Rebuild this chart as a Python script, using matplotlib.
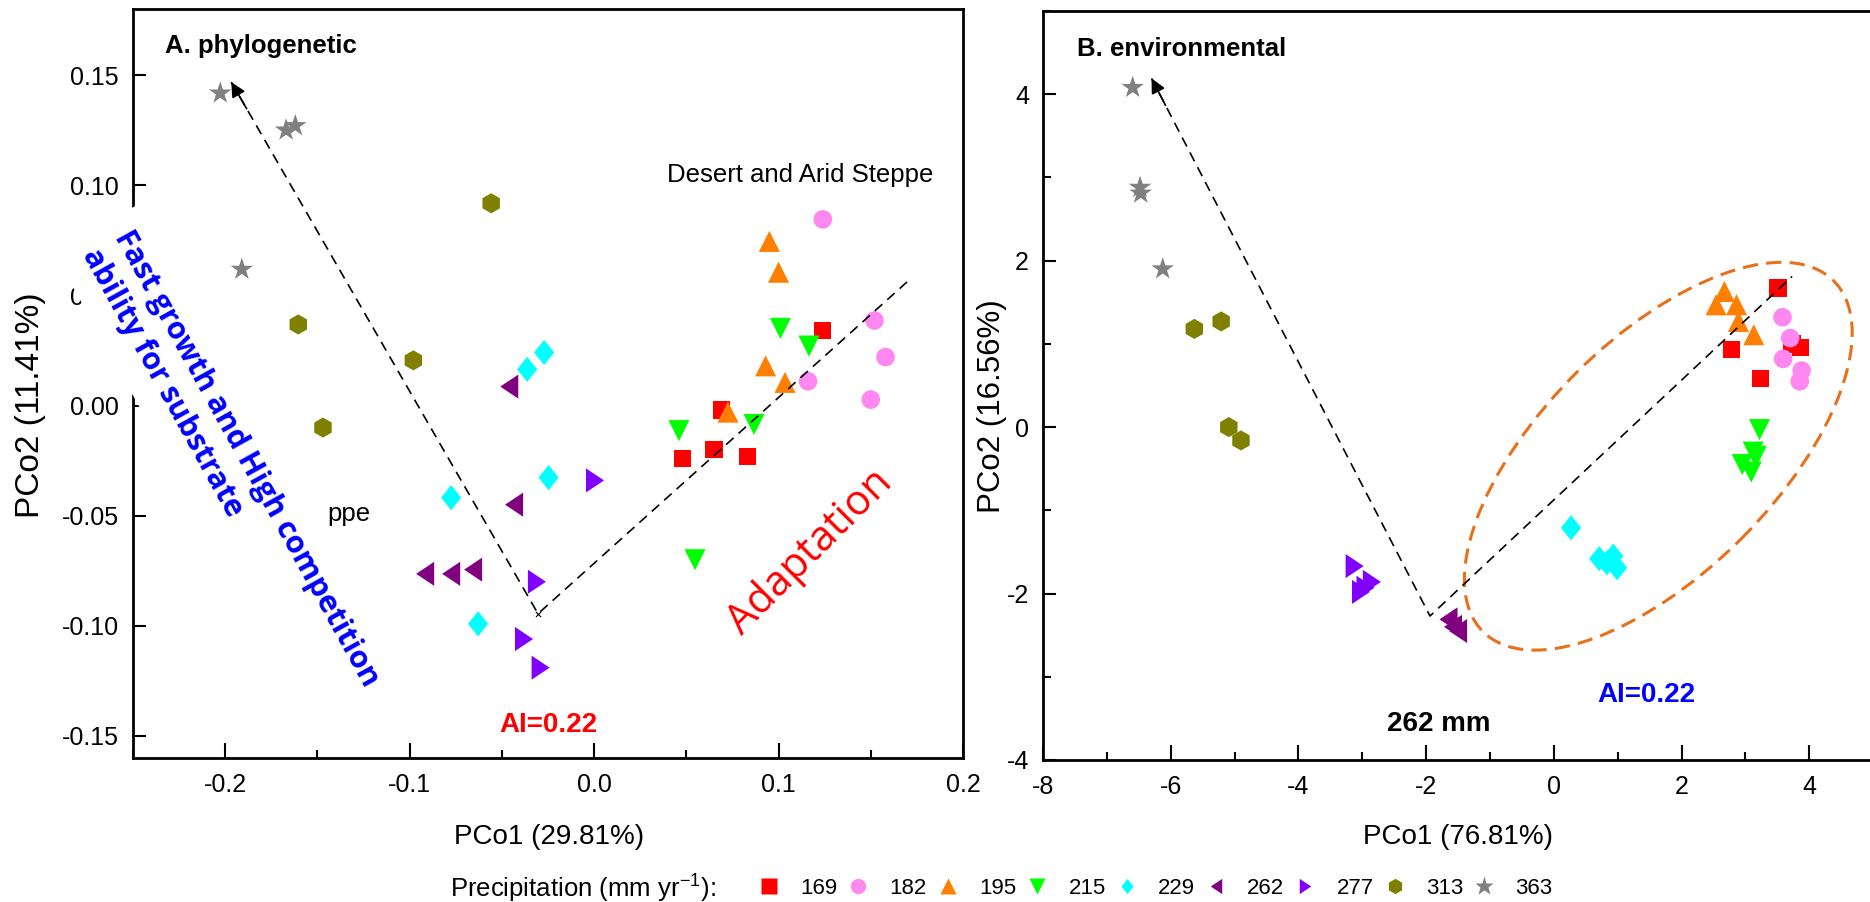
import matplotlib
matplotlib.use("Agg")
import matplotlib.pyplot as plt
import matplotlib.transforms as mtransforms
from matplotlib.lines import Line2D
from matplotlib.patches import Ellipse
from matplotlib.ticker import MultipleLocator, FormatStrFormatter

plt.rcParams['font.family'] = ['Liberation Sans', 'DejaVu Sans']
plt.rcParams['axes.unicode_minus'] = False
plt.rcParams['mathtext.fontset'] = 'custom'
plt.rcParams['mathtext.rm'] = 'Liberation Sans'

# precipitation groups (mm/yr)
rain = ['169', '182', '195', '215', '229', '262', '277', '313', '363']
colors = ['#FF0000', '#FF88F0', '#FF8000', '#00FF00', '#00FFFF',
          '#800080', '#8000FF', '#808000', '#808080']

# A. phylogenetic : PCo1 / PCo2
a169_x = [0.048, 0.065, 0.083, 0.069, 0.124]
a169_y = [-0.024, -0.020, -0.023, -0.002, 0.034]
a182_x = [0.124, 0.152, 0.158, 0.116, 0.150]
a182_y = [0.0845, 0.0386, 0.022, 0.011, 0.0027]
a195_x = [0.095, 0.100, 0.093, 0.1035, 0.0726]
a195_y = [0.0745, 0.0605, 0.018, 0.0105, -0.003]
a215_x = [0.101, 0.1165, 0.0867, 0.046, 0.0547]
a215_y = [0.035, 0.027, -0.0086, -0.0114, -0.070]
a229_x = [-0.0271, -0.0363, -0.0247, -0.0775, -0.0629]
a229_y = [0.0241, 0.0164, -0.0327, -0.0418, -0.0991]
a262_x = [-0.046, -0.0434, -0.0916, -0.0775, -0.0656]
a262_y = [0.0086, -0.045, -0.0764, -0.0764, -0.0745]
a277_x = [0.0005, -0.031, -0.038, -0.029]
a277_y = [-0.034, -0.080, -0.106, -0.119]
a313_x = [-0.0558, -0.1604, -0.098, -0.147]
a313_y = [0.0918, 0.0368, 0.0205, -0.010]
a363_x = [-0.2027, -0.167, -0.162, -0.191]
a363_y = [0.1418, 0.125, 0.127, 0.0618]

# B. environmental : PCo1 / PCo2
b169_x = [3.51, 2.78, 3.23, 3.73, 3.86]
b169_y = [1.67, 0.93, 0.58, 1.00, 0.96]
b182_x = [3.58, 3.70, 3.59, 3.88, 3.85]
b182_y = [1.32, 1.07, 0.82, 0.68, 0.55]
b195_x = [2.67, 2.54, 2.86, 2.89, 3.13]
b195_y = [1.63, 1.47, 1.47, 1.27, 1.11]
b215_x = [3.22, 3.12, 3.17, 2.95, 3.09]
b215_y = [-0.03, -0.30, -0.35, -0.45, -0.54]
b229_x = [0.27, 0.71, 0.83, 0.93, 0.99]
b229_y = [-1.21, -1.58, -1.63, -1.55, -1.69]
b262_x = [-1.65, -1.50, -1.58]
b262_y = [-2.31, -2.45, -2.40]
b277_x = [-3.12, -2.85, -2.95, -3.02]
b277_y = [-1.67, -1.86, -1.93, -1.98]
b313_x = [-5.63, -5.21, -5.09, -4.90]
b313_y = [1.18, 1.27, 0.00, -0.16]
b363_x = [-6.595, -6.48, -6.47, -6.125]
b363_y = [4.08, 2.88, 2.81, 1.90]

# dashed guide lines: arrow tip, vertex, end
a_tip, a_vertex, a_end = (-0.1967, 0.1468), (-0.0304, -0.0945), (0.1718, 0.0577)
b_tip, b_vertex, b_end = (-6.30, 4.19), (-1.94, -2.27), (3.73, 1.81)

# marker shapes (custom ones are a bit taller than wide, as in the original)
diamond = [(0, 1), (0.8, 0), (0, -1), (-0.8, 0), (0, 1)]
tri_left = [(-0.75, 0), (0.75, 1), (0.75, -1), (-0.75, 0)]
tri_right = [(0.75, 0), (-0.75, 1), (-0.75, -1), (0.75, 0)]
markers = ['s', 'o', '^', 'v', diamond, tri_left, tri_right, 'h', '*']
sizes = [155, 180, 230, 230, 330, 300, 300, 210, 290]

a_data = [(a169_x, a169_y), (a182_x, a182_y), (a195_x, a195_y), (a215_x, a215_y),
          (a229_x, a229_y), (a262_x, a262_y), (a277_x, a277_y), (a313_x, a313_y),
          (a363_x, a363_y)]
b_data = [(b169_x, b169_y), (b182_x, b182_y), (b195_x, b195_y), (b215_x, b215_y),
          (b229_x, b229_y), (b262_x, b262_y), (b277_x, b277_y), (b313_x, b313_y),
          (b363_x, b363_y)]

fig = plt.figure(figsize=(18.7, 9.02), dpi=100)
axA = fig.add_axes([0.07112, 0.15965, 0.44385, 0.83038])
axB = fig.add_axes([0.55775, 0.15743, 0.44225, 0.83038])


def style_axes(ax):
    for side in ['left', 'right', 'top', 'bottom']:
        ax.spines[side].set_linewidth(2)
    ax.tick_params(which='both', direction='in', top=False, right=False,
                   width=1.5, labelsize=18)
    ax.tick_params(axis='x', which='major', length=11, pad=11)
    ax.tick_params(axis='x', which='minor', length=6)
    ax.tick_params(axis='y', which='major', length=9.5, pad=10)
    ax.tick_params(axis='y', which='minor', length=5.5)


def guide(ax, tip, vertex, end):
    ax.plot([tip[0], vertex[0], end[0]], [tip[1], vertex[1], end[1]],
            color='k', lw=1.2, dashes=(6, 4), zorder=4)
    back = (tip[0] + 0.05 * (vertex[0] - tip[0]), tip[1] + 0.05 * (vertex[1] - tip[1]))
    ax.annotate('', xy=tip, xytext=back,
                arrowprops=dict(arrowstyle='-|>', color='k', lw=1.2,
                                mutation_scale=22, shrinkA=0, shrinkB=0),
                zorder=5)


for ax, data in [(axA, a_data), (axB, b_data)]:
    for (xs, ys), c, m, s in zip(data, colors, markers, sizes):
        ax.scatter(xs, ys, s=s, marker=m, color=c, edgecolors='none', zorder=3)
    style_axes(ax)

# ---- panel A
axA.set_xlim(-0.25, 0.2)
axA.set_ylim(-0.16, 0.18)
axA.xaxis.set_major_locator(MultipleLocator(0.1))
axA.xaxis.set_minor_locator(MultipleLocator(0.05))
axA.yaxis.set_major_locator(MultipleLocator(0.05))
axA.xaxis.set_major_formatter(FormatStrFormatter('%.1f'))
axA.yaxis.set_major_formatter(FormatStrFormatter('%.2f'))
axA.set_xlabel('PCo1 (29.81%)', fontsize=20)
axA.set_ylabel('PCo2 (11.41%)', fontsize=24)
axA.xaxis.set_label_coords(0.501, -0.088)
axA.yaxis.set_label_coords(-0.105, 0.471)
guide(axA, a_tip, a_vertex, a_end)
axA.scatter([a_vertex[0]], [a_vertex[1]], marker='x', s=14, color='k', lw=0.8, zorder=5)

axA.text(-0.2325, 0.16, 'A. phylogenetic', fontsize=18.5, fontweight='bold',
         ha='left', va='baseline')
axA.text(0.112, 0.1045, 'Desert and Arid Steppe', fontsize=18.5, ha='center', va='center')
# remains of a label hidden behind the blue text box
axA.text(-0.1447, -0.0523, 'ppe', fontsize=18.5, ha='left', va='baseline', zorder=2)
axA.text(-0.265, 0.0743, 'Fast growth and High competition\nability for substrate',
         family=['Open Sans', 'DejaVu Sans'], fontsize=22, fontweight='bold', color='#0000FF',
         rotation=-61, rotation_mode='anchor', ha='left', va='center',
         multialignment='left', linespacing=1.3, zorder=10,
         bbox=dict(facecolor='white', edgecolor='none', boxstyle='square,pad=0.55'))
axA.text(0.117, -0.0664, 'Adaptation', family=['Open Sans', 'DejaVu Sans'],
         fontsize=30, color='#FF0000', rotation=45, rotation_mode='anchor',
         ha='center', va='center')
axA.text(-0.025, -0.145, 'AI=0.22', fontsize=20, fontweight='bold', color='#FF0000',
         ha='center', va='center')

# ---- panel B (its right edge is cut off by the figure)
axB.set_xlim(-8, 4.95)
axB.set_ylim(-4, 5)
axB.spines['right'].set_visible(False)
axB.xaxis.set_major_locator(MultipleLocator(2))
axB.xaxis.set_minor_locator(MultipleLocator(1))
axB.yaxis.set_major_locator(MultipleLocator(2))
axB.yaxis.set_minor_locator(MultipleLocator(1))
axB.set_xlabel('PCo1 (76.81%)', fontsize=20)
axB.set_ylabel('PCo2 (16.56%)', fontsize=22.5)
axB.xaxis.set_label_coords(0.502, -0.086)
axB.yaxis.set_label_coords(-0.043, 0.473)
guide(axB, b_tip, b_vertex, b_end)

# orange dashed ellipse round the dry sites (size given in inches on screen)
ell_center = (1.635, -0.35)
ell = Ellipse((0, 0), width=4.96, height=2.34, angle=45, fill=False,
              edgecolor='#E8701A', lw=2.2, linestyle=(0, (5, 2.7)), zorder=2,
              transform=fig.dpi_scale_trans + mtransforms.ScaledTranslation(
                  ell_center[0], ell_center[1], axB.transData))
axB.add_patch(ell)

axB.text(-7.47, 4.456, 'B. environmental', fontsize=18.5, fontweight='bold',
         ha='left', va='baseline')
axB.text(-1.80, -3.57, '262 mm', fontsize=20, fontweight='bold', ha='center', va='center')
axB.text(1.447, -3.22, 'AI=0.22', fontsize=20, fontweight='bold', color='#0000FF',
         ha='center', va='center')

# ---- legend along the bottom
fig.text(450 / 1870, 1 - 888 / 902, 'Precipitation (mm yr$^{\\mathregular{-1}}$):',
         fontsize=18.5, ha='left', va='center')
handles = [Line2D([], [], linestyle='none', marker=m, color=c, markersize=11 if m != '*' else 14,
                  markeredgecolor='none')
           for m, c in zip(markers, colors)]
fig.legend(handles, rain, loc='center left', bbox_to_anchor=(758 / 1870, 1 - 888 / 902),
           ncol=9, frameon=False, fontsize=16, handlelength=1.0, handletextpad=0.9,
           columnspacing=0.45, borderpad=0, borderaxespad=0)

fig.savefig('out.png', dpi=100)
